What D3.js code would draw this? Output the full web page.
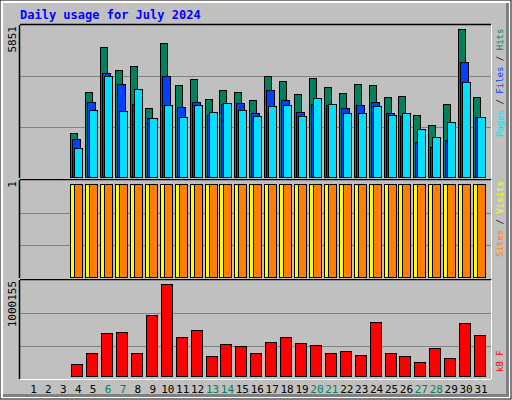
<!DOCTYPE html>
<html>
<head>
<meta charset="utf-8">
<script src="https://cdn.jsdelivr.net/npm/d3@7"></script>
<style>
  body { margin: 0; background: #fff; }
  text { font-family: "DejaVu Sans Mono", monospace; }
</style>
</head>
<body>
<div id="chart"></div>
<script>
// Daily stats for July 2024 (days 1-3 have no data)
const days = d3.range(1, 32);
const hits = [0, 0, 0, 1694, 3272, 5004, 4119, 4273, 2656, 5158, 3541, 3772, 3002, 3349, 3272, 2964,
    3888, 3695, 3195, 3811, 3464, 3233, 3580, 3541, 3079, 3118, 2386, 2002, 2810, 5697, 3079];
const files = [0, 0, 0, 1463, 2887, 4003, 3580, 2810, 2271, 3888, 2694, 2887, 2386, 2810, 2848, 2463,
    3349, 2964, 2502, 2810, 2771, 2656, 2771, 2887, 2463, 2348, 1347, 1155, 1424, 4427, 2309];
const pages = [0, 0, 0, 1116, 2579, 3888, 2540, 3387, 2271, 2771, 2309, 2771, 2502, 2848, 2579, 2348,
    2733, 2771, 2348, 3041, 2810, 2463, 2463, 2733, 2386, 2463, 1848, 1540, 2117, 3657, 2309];
const visits = [0, 0, 0, 1, 1, 1, 1, 1, 1, 1, 1, 1, 1, 1, 1, 1, 1, 1, 1, 1, 1, 1, 1, 1, 1, 1, 1, 1, 1, 1, 1];
const sites = [0, 0, 0, 1, 1, 1, 1, 1, 1, 1, 1, 1, 1, 1, 1, 1, 1, 1, 1, 1, 1, 1, 1, 1, 1, 1, 1, 1, 1, 1, 1];
const kbytes = [0, 0, 0, 126000, 255000, 470000, 481000, 255000, 663000, 1000155, 422000, 498000, 215000,
    346000, 324000, 248000, 368000, 422000, 357000, 335000, 248000, 269000, 226000, 586000, 248000,
    215000, 149000, 302000, 193000, 575000, 444000];
const weekends = [6, 7, 13, 14, 20, 21, 27, 28];

const W = 512, H = 400;
const left = 20, right = 491;

const svg = d3.select('#chart').append('svg')
    .attr('width', W).attr('height', H);

// Background and frame
svg.append('rect').attr('width', W).attr('height', H).attr('fill', '#fff');
svg.append('rect').attr('x', 0).attr('y', 0).attr('width', W - 1).attr('height', H - 1)
    .attr('fill', 'none').attr('stroke', '#000');
svg.append('rect').attr('x', 3).attr('y', 3).attr('width', W - 6).attr('height', H - 6).attr('fill', '#808080');
svg.append('rect').attr('x', 3).attr('y', 3).attr('width', W - 9).attr('height', H - 9).attr('fill', '#c0c0c0');

let x = d3.scaleLinear().domain([1, 31]).range([33.5, 481]);

// Panels
const panels = [
    { top: 25, bottom: 178, barTop: 25, barBottom: 177, max: 5851 },
    { top: 180, bottom: 278, barTop: 184, barBottom: 277, max: 1 },
    { top: 280, bottom: 379, barTop: 284, barBottom: 376, max: 1000155 }
];

panels.forEach(p => {
    p.y = d3.scaleLinear().domain([0, p.max]).range([p.barBottom, p.barTop]);
    const h = p.bottom - p.top;
    [1 / 3, 2 / 3].forEach(f => {
        svg.append('line')
            .attr('x1', left).attr('x2', right)
            .attr('y1', Math.round(p.top + h * f) + 0.5).attr('y2', Math.round(p.top + h * f) + 0.5)
            .attr('stroke', '#808080');
    });
    svg.append('line').attr('x1', left).attr('x2', right).attr('y1', p.top - 0.5).attr('y2', p.top - 0.5)
        .attr('stroke', '#000').attr('stroke-width', 1.5);
    svg.append('line').attr('x1', left).attr('x2', right).attr('y1', p.bottom + 0.5).attr('y2', p.bottom + 0.5)
        .attr('stroke', '#fff');
    svg.append('line').attr('x1', left - 0.5).attr('x2', left - 0.5).attr('y1', p.top).attr('y2', p.bottom)
        .attr('stroke', '#000').attr('stroke-width', 1.5);
    svg.append('line').attr('x1', right + 0.5).attr('x2', right + 0.5).attr('y1', p.top).attr('y2', p.bottom)
        .attr('stroke', '#fff');
});

function bars(values, panel, x0, x1, color) {
    svg.append('g').selectAll('rect')
        .data(days.filter(d => values[d - 1] > 0))
        .enter()
        .append('rect')
        .attr('x', d => Math.round(x(d)) + x0 + 0.5)
        .attr('y', d => Math.round(panel.y(values[d - 1])) + 0.5)
        .attr('width', x1 - x0)
        .attr('height', d => panel.barBottom - Math.round(panel.y(values[d - 1])))
        .attr('fill', color)
        .attr('stroke', '#000')
        .attr('stroke-width', 1);
}

bars(hits, panels[0], -8, -1, '#00805c');
bars(files, panels[0], -6, 2, '#0040ff');
bars(pages, panels[0], -4, 4, '#00e0ff');
bars(visits, panels[1], -8, -4, '#ffff00');
bars(sites, panels[1], -4, 4, '#ff8000');
bars(kbytes, panels[2], -7, 4, '#ff0000');

// Title
svg.append('text').attr('x', 20).attr('y', 19)
    .attr('font-size', '12px').attr('font-weight', 'bold').attr('fill', '#0000ff')
    .text('Daily usage for July 2024');

// Left scale labels
[['5851', 25], ['1', 180], ['1000155', 280]].forEach(([t, y]) => {
    svg.append('text')
        .attr('transform', `translate(16, ${y + 1}) rotate(-90)`)
        .attr('text-anchor', 'end')
        .attr('font-size', '11px').attr('font-family', 'DejaVu Sans')
        .attr('fill', '#000').text(t);
});

// Right legends
function legend(parts, yBottom) {
    const t = svg.append('text')
        .attr('transform', `translate(503, ${yBottom}) rotate(-90)`)
        .attr('font-size', '9px');
    parts.forEach(([s, c]) => t.append('tspan').attr('fill', c).text(s));
}
legend([['Pages', '#00e0ff'], [' / ', '#000'], ['Files', '#0040ff'], [' / ', '#000'], ['Hits', '#00805c']], 137);
legend([['Sites', '#ff8000'], [' / ', '#000'], ['Visits', '#ffff00']], 257);
legend([['kB F', '#ff0000']], 372);

// Day labels
svg.append('g').selectAll('text')
    .data(days)
    .enter()
    .append('text')
    .attr('x', d => x(d))
    .attr('y', 393)
    .attr('text-anchor', 'middle')
    .attr('font-size', '11px').attr('font-family', 'DejaVu Sans')
    .attr('fill', d => weekends.includes(d) ? '#00805c' : '#000')
    .text(d => d);
</script>
</body>
</html>
